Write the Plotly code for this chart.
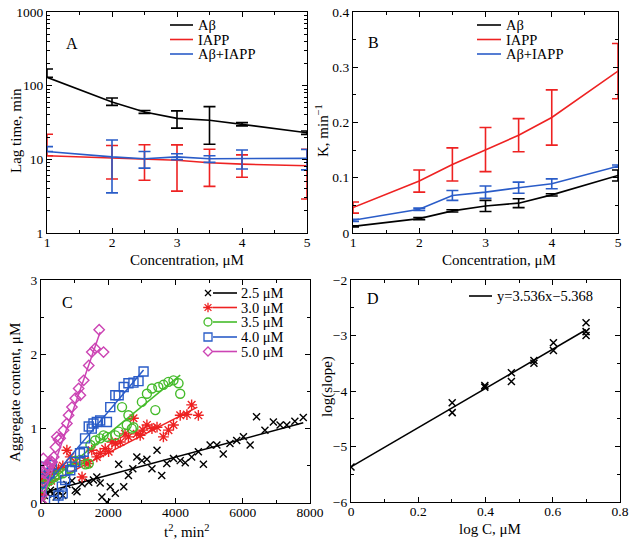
import plotly.graph_objects as go

# ---------------- data ----------------
conc = [1, 2, 2.5, 3, 3.5, 4, 5]

# Panel A: lag time (min)
lag_ab = [130, 60, 44, 36, 34, 30, 23]
lag_ab_errp = [38, 8, 2, 9.5, 18, 1.5, 1.2]
lag_ab_errm = [0, 6, 2, 9.5, 18, 1.5, 1.2]
lag_iapp = [11.2, 10.4, 10.2, 9.7, 9.0, 8.6, 8.2]
lag_iapp_errp = [10.7, 5.0, 5.6, 6.0, 4.7, 2.9, 5.5]
lag_iapp_errm = [0, 5.0, 5.0, 6.0, 4.7, 2.9, 5.3]
lag_mix = [12.8, 10.8, 10.2, 10.8, 10.2, 10.3, 10.3]
lag_mix_errp = [2.1, 7.5, 2.6, 1.1, 1.0, 3.1, 3.3]
lag_mix_errm = [0, 7.3, 2.6, 0.9, 1.1, 2.9, 3.1]

# Panel B: K (1/min)
k_ab = [0.012, 0.026, 0.040, 0.049, 0.054, 0.069, 0.104]
k_ab_err = [0.001, 0.002, 0.002, 0.010, 0.008, 0.002, 0.010]
k_iapp = [0.046, 0.094, 0.124, 0.151, 0.177, 0.209, 0.293]
k_iapp_err = [0.010, 0.020, 0.030, 0.040, 0.030, 0.050, 0.050]
k_mix = [0.023, 0.043, 0.068, 0.074, 0.082, 0.089, 0.121]
k_mix_err = [0.002, 0.002, 0.009, 0.011, 0.010, 0.009, 0.002]

series_names = ["Aβ", "IAPP", "Aβ+IAPP"]

# Panel C: aggregate content vs t^2
t2_25 = [30, 100, 200, 280, 350, 450, 520, 650, 770, 920, 1020, 1070, 1220, 1420, 1560, 1660, 1760,
         1810, 1960, 2060, 2210, 2310, 2460, 2600, 2730, 2850, 3000, 3150, 3300, 3450, 3590,
         3740, 3940, 4140, 4290, 4480, 4680, 4830, 5030, 5230, 5420, 5620, 5820, 6020, 6220,
         6410, 6660, 6910, 7110, 7310, 7550, 7800]
agg_25 = [0.05, 0.10, 0.12, 0.17, 0.12, 0.08, 0.15, 0.10, 0.25, 0.30, 0.17, 0.15, 0.26, 0.28, 0.31,
          0.35, 0.27, 0.08, 0.01, 0.22, 0.13, 0.52, 0.22, 0.37, 0.46, 0.62, 0.57, 0.59, 0.46,
          0.71, 0.37, 0.53, 0.60, 0.57, 0.54, 0.62, 0.69, 0.52, 0.78, 0.78, 0.66, 0.80, 0.84,
          0.89, 0.78, 1.16, 0.98, 1.09, 1.05, 1.05, 1.10, 1.15]
t2_30 = [20, 40, 60, 100, 150, 200, 300, 400, 520, 650, 770, 870, 1020, 1220, 1310, 1400, 1510,
         1660, 1760, 1910, 2010, 2110, 2210, 2360, 2500, 2600, 2750, 2850, 2950, 3030, 3150,
         3300, 3450, 3640, 3790, 3940, 4140, 4340, 4480, 4680]
agg_30 = [0.10, 0.30, 0.35, 0.38, 0.32, 0.38, 0.30, 0.42, 0.46, 0.50, 0.71, 0.62, 0.55, 0.35, 0.57,
          0.53, 0.71, 0.62, 0.67, 0.73, 0.69, 0.82, 0.80, 0.82, 0.93, 0.89, 1.14, 0.93, 0.91,
          0.98, 1.05, 1.00, 1.02, 0.89, 0.98, 1.05, 1.18, 1.19, 1.32, 1.18]
t2_35 = [20, 60, 120, 200, 280, 400, 520, 650, 870, 1020, 1170, 1320, 1420, 1470, 1610, 1760,
         1860, 1960, 2210, 2310, 2410, 2550, 2600, 2700, 2750, 3000, 3150, 3300, 3400, 3490,
         3640, 3790, 3940, 4090, 4140]
agg_35 = [0.10, 0.20, 0.25, 0.30, 0.31, 0.35, 0.38, 0.40, 0.46, 0.57, 0.58, 0.52, 0.53, 0.78,
          0.84, 0.87, 0.91, 0.89, 0.91, 0.96, 1.29, 1.05, 1.18, 1.00, 1.02, 1.36, 1.47, 1.54,
          1.25, 1.56, 1.59, 1.63, 1.65, 1.61, 1.47]
t2_40 = [20, 80, 130, 250, 320, 387, 520, 620, 645, 720, 870, 920, 1020, 1160, 1270, 1310,
         1420, 1510, 1560, 1660, 1760, 1960, 2060, 2210, 2310, 2460, 2600, 2750, 2900, 3050]
agg_40 = [0.15, 0.33, 0.49, 0.40, 0.51, 0.03, 0.10, 0.22, 0.13, 0.31, 0.44, 0.49, 0.55, 0.67,
          0.69, 0.87, 1.03, 1.00, 1.07, 1.09, 1.11, 1.09, 1.29, 1.45, 1.45, 1.56, 1.61, 1.62,
          1.64, 1.77]
t2_50 = [10, 30, 60, 70, 90, 130, 180, 230, 268, 280, 330, 380, 430, 470, 520, 570, 670, 770,
         820, 920, 1020, 1120, 1170, 1270, 1420, 1510, 1610, 1730, 1860]
agg_50 = [0.00, 0.10, 0.30, 0.60, 0.40, 0.45, 0.50, 0.49, 0.54, 0.57, 0.55, 0.62, 0.75, 0.89,
          0.85, 0.87, 0.98, 1.07, 1.18, 1.29, 1.41, 1.54, 1.45, 1.65, 1.85, 2.03, 2.08, 2.33, 2.03]

fit_t2_25 = [80, 7800];  fit_agg_25 = [0.14, 1.08]
fit_t2_30 = [0, 4650];   fit_agg_30 = [0.21, 1.29]
fit_t2_35 = [0, 4140];   fit_agg_35 = [0.19, 1.72]
fit_t2_40 = [0, 3050];   fit_agg_40 = [0.16, 1.79]
fit_t2_50 = [0, 1760];   fit_agg_50 = [0.00, 2.30]
conc_labels = ["2.5 μM", "3.0 μM", "3.5 μM", "4.0 μM", "5.0 μM"]

# Panel D
log_c = [0, 0.301, 0.301, 0.398, 0.398, 0.477, 0.477, 0.544, 0.544, 0.602, 0.602, 0.699, 0.699, 0.699]
log_slope = [-5.37, -4.21, -4.39, -3.90, -3.93, -3.67, -3.83, -3.45, -3.50, -3.13, -3.27, -2.77, -2.93, -3.00]
fit_log_c = [0, 0.699]
fit_log_slope = [-5.368, -2.896]
fit_label = "y=3.536x−5.368"

# ---------------- style ----------------
FONT = "Liberation Serif, Times New Roman, serif"
BLACK = "#000000"
RED = "#ee2222"
BLUE = "#2a5cc8"
GREEN = "#44bb2a"
MAGENTA = "#cc44b4"
cols3 = [BLACK, RED, BLUE]
W, H = 632, 545
LEG_FONT = 14.5
TITLE_FONT = 15
TICK_FONT = 13.5


def fx_(p):
    return p / W


def fy_(p):
    return 1 - p / H


fig = go.Figure()

# Panel A
for name, y, ep, em, c in zip(series_names,
                              [lag_ab, lag_iapp, lag_mix],
                              [lag_ab_errp, lag_iapp_errp, lag_mix_errp],
                              [lag_ab_errm, lag_iapp_errm, lag_mix_errm], cols3):
    fig.add_trace(go.Scatter(x=conc, y=y, mode="lines", name=name, showlegend=False,
                             line=dict(color=c, width=1.6),
                             error_y=dict(type="data", array=ep, arrayminus=em, color=c,
                                          thickness=1.6, width=6),
                             xaxis="x", yaxis="y"))

# Panel B
for name, y, e, c in zip(series_names, [k_ab, k_iapp, k_mix], [k_ab_err, k_iapp_err, k_mix_err], cols3):
    fig.add_trace(go.Scatter(x=conc, y=y, mode="lines", name=name, showlegend=False,
                             line=dict(color=c, width=1.6),
                             error_y=dict(type="data", array=e, color=c, thickness=1.6, width=6),
                             xaxis="x2", yaxis="y2"))

# Panel C
c_sets = [
    (t2_25, agg_25, fit_t2_25, fit_agg_25, BLACK, "x-thin", 7),
    (t2_30, agg_30, fit_t2_30, fit_agg_30, RED, "asterisk-open", 9),
    (t2_35, agg_35, fit_t2_35, fit_agg_35, GREEN, "circle-open", 9),
    (t2_40, agg_40, fit_t2_40, fit_agg_40, BLUE, "square-open", 9),
    (t2_50, agg_50, fit_t2_50, fit_agg_50, MAGENTA, "diamond-open", 8),
]
for lab, (xs, ys, fx, fy, c, sym, sz) in zip(conc_labels, c_sets):
    fig.add_trace(go.Scatter(x=xs, y=ys, mode="markers", name=lab, showlegend=False,
                             marker=dict(symbol=sym, size=sz, color=c, line=dict(color=c, width=1.4)),
                             xaxis="x3", yaxis="y3"))
    fig.add_trace(go.Scatter(x=fx, y=fy, mode="lines", name=lab, showlegend=False,
                             line=dict(color=c, width=1.5), xaxis="x3", yaxis="y3"))

# Panel D
fig.add_trace(go.Scatter(x=log_c, y=log_slope, mode="markers", showlegend=False,
                         marker=dict(symbol="x-thin", size=7, color=BLACK, line=dict(color=BLACK, width=1.5)),
                         xaxis="x4", yaxis="y4"))
fig.add_trace(go.Scatter(x=fit_log_c, y=fit_log_slope, mode="lines", name=fit_label, showlegend=False,
                         line=dict(color=BLACK, width=1.5), xaxis="x4", yaxis="y4"))


# ---------------- compact legends (pixel positions on the page) ----------------
def legend_block(labels, colors, line_x0, line_x1, text_x, row_y, symbols=None, sizes=None, marker_x=None):
    for i, (lab, c) in enumerate(zip(labels, colors)):
        yy = row_y[i]
        fig.add_shape(type="line", xref="paper", yref="paper",
                      x0=fx_(line_x0), x1=fx_(line_x1), y0=fy_(yy), y1=fy_(yy),
                      line=dict(color=c, width=1.6))
        fig.add_annotation(text=lab, x=fx_(text_x), y=fy_(yy), xref="paper", yref="paper",
                           xanchor="left", yanchor="middle", showarrow=False,
                           font=dict(family=FONT, size=LEG_FONT, color=BLACK))
        if symbols is not None:
            fig.add_trace(go.Scatter(x=[marker_x], y=[yy], mode="markers", showlegend=False,
                                     hoverinfo="skip",
                                     marker=dict(symbol=symbols[i], size=sizes[i] - 1, color=c,
                                                 line=dict(color=c, width=1.3)),
                                     xaxis="x5", yaxis="y5"))


legend_block(series_names, cols3, 170, 193, 196, [25, 39.5, 54])
legend_block(series_names, cols3, 477, 501, 504, [25, 39.5, 54])
legend_block(conc_labels, [s[4] for s in c_sets], 213, 237, 239, [293, 307.5, 322, 337, 351.5],
             symbols=[s[5] for s in c_sets], sizes=[s[6] for s in c_sets], marker_x=208)
legend_block([fit_label], [BLACK], 469, 492, 495, [296])

# axis titles placed as text at page-pixel positions
axis_titles = [
    ("Concentration, μM", 187, 259.5, 0),
    ("Concentration, μM", 499, 259.5, 0),
    ("t<sup>2</sup>, min<sup>2</sup>", 187, 531, 0),
    ("log C, μM", 490, 529, 0),
    ("Lag time, min", 16, 131, -90),
    ("K, min<sup>−1</sup>", 322, 131, -90),
    ("Aggregate content, μM", 15, 393, -90),
    ("log(slope)", 327, 387, -90),
]
for txt, px, py, ang in axis_titles:
    fig.add_annotation(text=txt, x=fx_(px), y=fy_(py), xref="paper", yref="paper",
                       xanchor="center", yanchor="middle", textangle=ang, showarrow=False,
                       font=dict(family=FONT, size=TITLE_FONT, color=BLACK))

common = dict(showline=True, linecolor=BLACK, linewidth=1.3, mirror="ticks", ticks="inside",
              ticklen=5, tickwidth=1, tickcolor=BLACK, showgrid=False, zeroline=False,
              automargin=False,
              tickfont=dict(family=FONT, size=TICK_FONT, color=BLACK))
xcommon = dict(common, ticklabelstandoff=-3)
minor = dict(ticks="inside", ticklen=3, tickwidth=1, tickcolor=BLACK, showgrid=False)

fig.update_layout(
    width=W, height=H, margin=dict(l=0, r=0, t=0, b=0, autoexpand=False),
    paper_bgcolor="white", plot_bgcolor="rgba(0,0,0,0)",
    font=dict(family=FONT, color=BLACK),
    showlegend=False,
    xaxis=dict(xcommon, domain=[fx_(47), fx_(307)], anchor="y", range=[1, 5], tickvals=[1, 2, 3, 4, 5],
               minor=dict(minor, dtick=0.5)),
    yaxis=dict(common, domain=[fy_(233), fy_(12)], anchor="x", type="log", range=[0, 3], dtick=1,
               minor=dict(minor, tickvals=[2, 3, 4, 5, 6, 7, 8, 9, 20, 30, 40, 50, 60, 70, 80, 90,
                                           200, 300, 400, 500, 600, 700, 800, 900])),
    xaxis2=dict(xcommon, domain=[fx_(353), fx_(618)], anchor="y2", range=[1, 5], tickvals=[1, 2, 3, 4, 5],
                minor=dict(minor, dtick=0.5)),
    yaxis2=dict(common, domain=[fy_(233), fy_(12)], anchor="x2", range=[0, 0.4], dtick=0.1,
                tickformat=".1~f", minor=dict(minor, dtick=0.05)),
    xaxis3=dict(xcommon, domain=[fx_(41), fx_(310)], anchor="y3", range=[0, 8000], dtick=2000,
                minor=dict(minor, dtick=1000)),
    yaxis3=dict(common, domain=[fy_(503), fy_(280)], anchor="x3", range=[0, 3], dtick=1,
                minor=dict(minor, dtick=0.5)),
    xaxis4=dict(xcommon, domain=[fx_(351), fx_(620)], anchor="y4", range=[0, 0.8], dtick=0.2,
                tickformat=".1~f", minor=dict(minor, dtick=0.1)),
    yaxis4=dict(common, domain=[fy_(502), fy_(280)], anchor="x4", range=[-6, -2], dtick=1,
                minor=dict(minor, dtick=0.5)),
    # page-pixel overlay used only for legend glyphs
    xaxis5=dict(domain=[0, 1], range=[0, W], visible=False, fixedrange=True, anchor="y5"),
    yaxis5=dict(domain=[0, 1], range=[H, 0], visible=False, fixedrange=True, anchor="x5"),
)

for letter, px, py in [("A", 64, 33), ("B", 373, 32), ("C", 60, 302), ("D", 373, 298)]:
    fig.add_annotation(text=letter, x=fx_(px), y=fy_(py), xref="paper", yref="paper",
                       showarrow=False, font=dict(family=FONT, size=16, color=BLACK))

fig.write_html("out.html", config={"displayModeBar": False},
               post_script="document.body.style.margin='0';document.body.style.padding='0';")
